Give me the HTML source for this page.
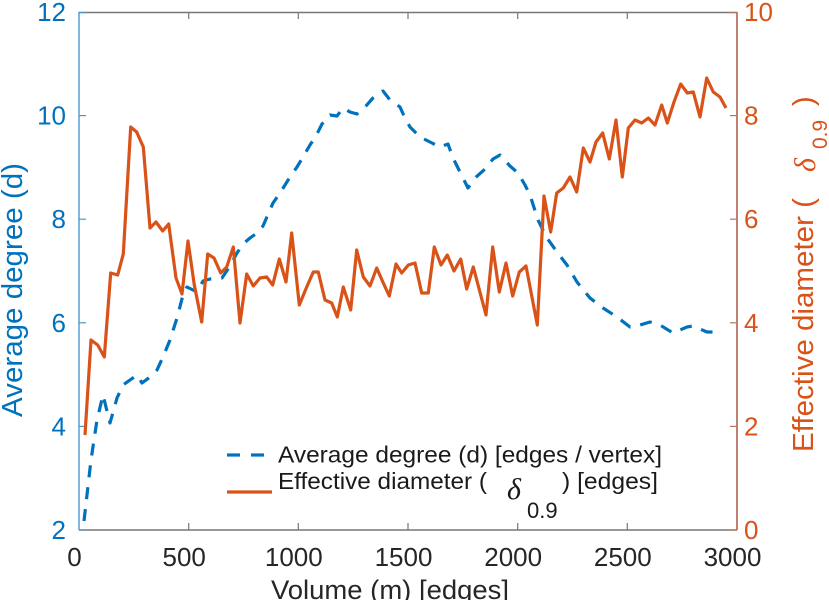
<!DOCTYPE html>
<html>
<head>
<meta charset="utf-8">
<style>
  html,body{margin:0;padding:0;background:#fff;}
  svg{display:block;}
  text{font-family:"Liberation Sans",Arial,sans-serif;}
</style>
</head>
<body>
<svg width="829" height="600" viewBox="0 0 829 600" xmlns="http://www.w3.org/2000/svg">
  <rect x="0" y="0" width="829" height="600" fill="#ffffff"/>

  <!-- axes box -->
  <line x1="79" y1="12.5" x2="737" y2="12.5" stroke="#777" stroke-width="1.4"/>
  <line x1="79" y1="530" x2="737" y2="530" stroke="#777" stroke-width="1.4"/>
  <line x1="79" y1="12" x2="79" y2="530" stroke="#4a98d0" stroke-width="1.4"/>
  <line x1="737" y1="12" x2="737" y2="530" stroke="#b87462" stroke-width="1.8"/>

  <!-- x ticks top and bottom -->
  <g stroke="#777" stroke-width="1.2">
    <line x1="188.7" y1="12" x2="188.7" y2="19"/>
    <line x1="298.3" y1="12" x2="298.3" y2="19"/>
    <line x1="408" y1="12" x2="408" y2="19"/>
    <line x1="517.7" y1="12" x2="517.7" y2="19"/>
    <line x1="627.3" y1="12" x2="627.3" y2="19"/>
    <line x1="188.7" y1="530" x2="188.7" y2="523"/>
    <line x1="298.3" y1="530" x2="298.3" y2="523"/>
    <line x1="408" y1="530" x2="408" y2="523"/>
    <line x1="517.7" y1="530" x2="517.7" y2="523"/>
    <line x1="627.3" y1="530" x2="627.3" y2="523"/>
  </g>
  <!-- left ticks -->
  <g stroke="#4a98d0" stroke-width="1.2">
    <line x1="79" y1="530" x2="86" y2="530"/>
    <line x1="79" y1="426.4" x2="86" y2="426.4"/>
    <line x1="79" y1="322.8" x2="86" y2="322.8"/>
    <line x1="79" y1="219.2" x2="86" y2="219.2"/>
    <line x1="79" y1="115.6" x2="86" y2="115.6"/>
    <line x1="79" y1="12.5" x2="86" y2="12.5"/>
  </g>
  <!-- right ticks -->
  <g stroke="#b87462" stroke-width="1.2">
    <line x1="730" y1="530" x2="737" y2="530"/>
    <line x1="730" y1="426.4" x2="737" y2="426.4"/>
    <line x1="730" y1="322.8" x2="737" y2="322.8"/>
    <line x1="730" y1="219.2" x2="737" y2="219.2"/>
    <line x1="730" y1="115.6" x2="737" y2="115.6"/>
    <line x1="730" y1="12.5" x2="737" y2="12.5"/>
  </g>

  <!-- left tick labels -->
  <g fill="#0072BD" font-size="26" text-anchor="end">
    <text x="66" y="539">2</text>
    <text x="66" y="435.4">4</text>
    <text x="66" y="331.8">6</text>
    <text x="66" y="228.2">8</text>
    <text x="66" y="124.6">10</text>
    <text x="66" y="21">12</text>
  </g>
  <!-- right tick labels -->
  <g fill="#D95319" font-size="26" text-anchor="start">
    <text x="744" y="539">0</text>
    <text x="744" y="435.4">2</text>
    <text x="744" y="331.8">4</text>
    <text x="744" y="228.2">6</text>
    <text x="744" y="124.6">8</text>
    <text x="744" y="21">10</text>
  </g>
  <!-- x tick labels -->
  <g fill="#262626" font-size="26" text-anchor="middle">
    <text x="74.5" y="566">0</text>
    <text x="184.2" y="566">500</text>
    <text x="293.8" y="566">1000</text>
    <text x="403.5" y="566">1500</text>
    <text x="513.2" y="566">2000</text>
    <text x="622.8" y="566">2500</text>
    <text x="732.5" y="566">3000</text>
  </g>

  <!-- x label -->
  <text x="271" y="599" font-size="27" fill="#262626" textLength="238" lengthAdjust="spacingAndGlyphs">Volume (m) [edges]</text>

  <!-- left y label -->
  <g transform="translate(22,417) rotate(-90)">
    <text x="0" y="0" font-size="29" fill="#0072BD" textLength="254" lengthAdjust="spacingAndGlyphs">Average degree (d)</text>
  </g>

  <!-- right y label -->
  <g transform="translate(813,452) rotate(-90)" fill="#D95319">
    <text x="0" y="0" font-size="29" textLength="254" lengthAdjust="spacingAndGlyphs">Effective diameter (</text>
    <text x="280" y="2" font-size="30" font-style="italic" style="font-family:'Liberation Serif',serif">δ</text>
    <text x="303" y="14" font-size="21">0.9</text>
    <text x="346" y="0" font-size="29">)</text>
  </g>

  <!-- Blue dashed: average degree -->
  <polyline fill="none" stroke="#0072BD" stroke-width="3.2" stroke-dasharray="12 10" stroke-linejoin="round"
    points="84,521 91,460 97,420 103,395 110,423 117,398 123,385 130,380 137,375 142,383 150,377 157,370 163,357 170,340 177,318 183,295 187,287 193,290 197,292 203,281 210,279 222,278 230,266 237,253 243,244 250,238 257,233 263,226 273,203 280,193 290,177 297,167 303,157 310,145 316,136 322,124 330,115 337,116 343,108 350,112 357,114 365,107 373,98 383,91 390,100 400,107 405,118 410,127 420,137 430,142 440,147 448,144 453,158 460,172 468,188 475,178 485,169 493,159 500,155 510,166 518,173 525,185 530,195 538,220 547,238 557,252 567,265 577,282 590,298 603,308 617,317 630,327 640,325 650,322 660,325 673,333 687,327 693,326 707,332 720,332"/>

  <!-- Orange solid: effective diameter -->
  <polyline fill="none" stroke="#D95319" stroke-width="3.2" stroke-linejoin="round"
    points="85,435 91,340 97.7,345 104.3,357 110.7,273 117.7,275 123.3,254 130.7,127 136.7,132 143.3,147 150,228 156,222 162.7,231 168.7,224 176,278 182,294 188,241 194.3,285 201.7,322 207.7,254 214,258 220.7,273 226.7,267 233.3,247 240,323 246.7,274 253.3,286 260,278 266.7,277 272.7,285 279.3,259 286,282 291.7,233 299.3,305 306.7,287 313.3,272 318.3,272 325,300 331.7,303 337.3,317 343.3,287 350.7,310 356.7,250 363.3,277 370,286 376.7,268 383.3,283 389.3,296 396,264 401.7,273 408.3,265 415,263 421.7,293 428.3,293 434.3,247 441,265 447.3,255 454,271 460.7,259 466.7,289 473.3,267 486,315 492.7,247 499.3,292 506,263 512.7,296 519.3,272 526,266 537.3,325 544,196 550.7,232 556.7,193 563.3,188 570,177 576.7,192 583.3,148 590,162 596,142 602.7,133 609.3,159 616,120 622.3,177 628.3,128 635,120 641.7,123 648.3,118 655,125 661.7,105 667.3,123 674,102 680.7,84 687.3,93 693.3,92 700,117 706.7,78 713.3,92 720,97 726,108"/>

  <!-- Legend -->
  <line x1="227" y1="455" x2="240" y2="455" stroke="#0072BD" stroke-width="3.2"/>
  <line x1="251" y1="455" x2="264" y2="455" stroke="#0072BD" stroke-width="3.2"/>
  <line x1="227" y1="492" x2="272" y2="492" stroke="#D95319" stroke-width="3.2"/>
  <text x="278" y="462.5" font-size="23.5" fill="#1a1a1a" textLength="384" lengthAdjust="spacingAndGlyphs">Average degree (d) [edges / vertex]</text>
  <text x="278" y="489" font-size="23.5" fill="#1a1a1a" textLength="209" lengthAdjust="spacingAndGlyphs">Effective diameter (</text>
  <text x="507" y="499" font-size="30" font-style="italic" fill="#1a1a1a" style="font-family:'Liberation Serif',serif">δ</text>
  <text x="527" y="518" font-size="22" fill="#1a1a1a">0.9</text>
  <text x="562" y="489" font-size="23.5" fill="#1a1a1a" textLength="96" lengthAdjust="spacingAndGlyphs">) [edges]</text>
</svg>
</body>
</html>
